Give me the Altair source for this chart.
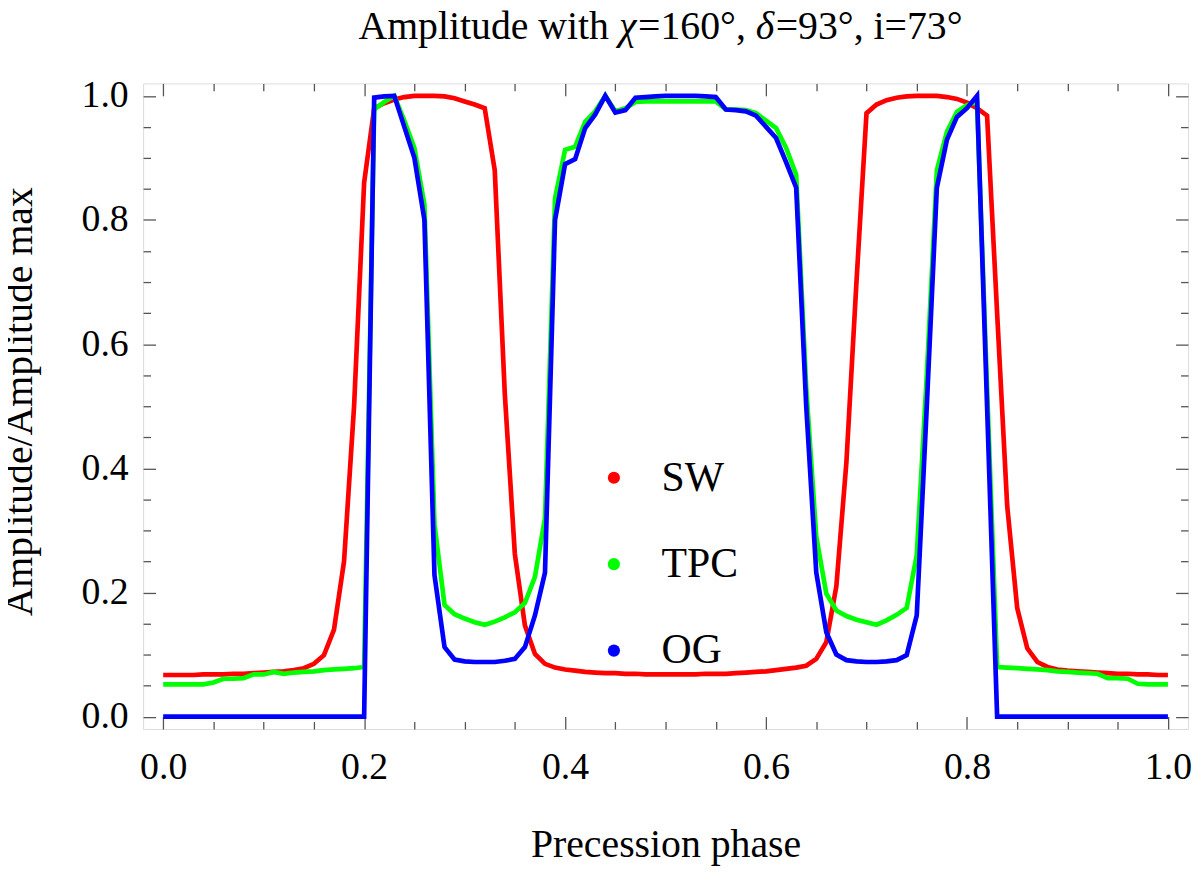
import altair as alt
import pandas as pd

# ---------------- data ----------------
phase = [round(i / 100, 2) for i in range(101)]

sw = [0.067, 0.067, 0.067, 0.067, 0.068, 0.068, 0.068, 0.069, 0.069, 0.070,
      0.071, 0.072, 0.073, 0.075, 0.078, 0.085, 0.099, 0.140, 0.250, 0.500,
      0.860, 0.980, 0.988, 0.994, 0.998, 1.000, 1.000, 1.000, 0.999, 0.996,
      0.991, 0.986, 0.980, 0.880, 0.520, 0.262, 0.147, 0.101, 0.085, 0.079,
      0.076, 0.074, 0.072, 0.071, 0.070, 0.070, 0.069, 0.069, 0.068, 0.068,
      0.068, 0.068, 0.068, 0.068, 0.069, 0.069, 0.069, 0.070, 0.071, 0.072,
      0.073, 0.075, 0.077, 0.079, 0.082, 0.093, 0.120, 0.210, 0.410, 0.700,
      0.972, 0.986, 0.993, 0.997, 0.999, 1.000, 1.000, 1.000, 0.998, 0.995,
      0.989, 0.980, 0.968, 0.650, 0.340, 0.175, 0.110, 0.088, 0.080, 0.076,
      0.074, 0.073, 0.072, 0.071, 0.070, 0.069, 0.069, 0.068, 0.068, 0.067,
      0.067]

tpc = [0.052, 0.052, 0.052, 0.052, 0.052, 0.055, 0.061, 0.061, 0.062, 0.068,
       0.068, 0.072, 0.069, 0.071, 0.072, 0.073, 0.075, 0.076, 0.077, 0.078,
       0.080, 0.978, 0.990, 1.000, 0.960, 0.916, 0.825, 0.310, 0.180, 0.165,
       0.158, 0.152, 0.148, 0.153, 0.160, 0.168, 0.183, 0.225, 0.320, 0.835,
       0.913, 0.918, 0.958, 0.975, 1.000, 0.975, 0.980, 0.990, 0.991, 0.991,
       0.991, 0.991, 0.991, 0.991, 0.991, 0.991, 0.978, 0.978, 0.977, 0.972,
       0.960, 0.948, 0.916, 0.873, 0.530, 0.290, 0.198, 0.171, 0.162, 0.156,
       0.152, 0.148, 0.155, 0.164, 0.175, 0.260, 0.550, 0.880, 0.942, 0.974,
       0.985, 0.990, 0.530, 0.080, 0.079, 0.078, 0.077, 0.076, 0.075, 0.073,
       0.072, 0.071, 0.070, 0.069, 0.062, 0.062, 0.061, 0.053, 0.052, 0.052,
       0.052]

og = [0.000, 0.000, 0.000, 0.000, 0.000, 0.000, 0.000, 0.000, 0.000, 0.000,
      0.000, 0.000, 0.000, 0.000, 0.000, 0.000, 0.000, 0.000, 0.000, 0.000,
      0.000, 0.997, 0.999, 1.000, 0.950, 0.900, 0.800, 0.228, 0.112, 0.092,
      0.089, 0.088, 0.088, 0.088, 0.090, 0.093, 0.112, 0.163, 0.232, 0.800,
      0.890, 0.898, 0.948, 0.970, 1.000, 0.973, 0.977, 0.997, 0.998, 0.999,
      1.000, 1.000, 1.000, 1.000, 0.999, 0.998, 0.978, 0.977, 0.975, 0.968,
      0.950, 0.932, 0.893, 0.852, 0.500, 0.232, 0.136, 0.100, 0.091, 0.089,
      0.088, 0.088, 0.089, 0.091, 0.099, 0.163, 0.500, 0.852, 0.929, 0.966,
      0.980, 1.000, 0.500, 0.000, 0.000, 0.000, 0.000, 0.000, 0.000, 0.000,
      0.000, 0.000, 0.000, 0.000, 0.000, 0.000, 0.000, 0.000, 0.000, 0.000,
      0.000]

series_names = ["SW", "TPC", "OG"]
series_colors = ["#ff0000", "#00ff00", "#0000ff"]

major_ticks = [0.0, 0.2, 0.4, 0.6, 0.8, 1.0]
minor_ticks = [0.05, 0.1, 0.15, 0.25, 0.3, 0.35, 0.45, 0.5, 0.55,
               0.65, 0.7, 0.75, 0.85, 0.9, 0.95]

# title pieces (Greek symbols are italic in the reference)
title_pieces = ["Amplitude with ", "χ", "=160°, ", "δ", "=93°, i=73°"]
title_italic = [False, True, False, True, False]
x_title = "Precession phase"
y_title = "Amplitude/Amplitude max"

# ---------------- table ----------------
rows = []
for name, vals in zip(series_names, [sw, tpc, og]):
    for p, v in zip(phase, vals):
        rows.append({"phase": p, "amp": v, "series": name})
df = pd.DataFrame(rows)

# ---------------- styling ----------------
FONT = "Liberation Serif"
W, H = 1052, 650
PAD_L, PAD_T = 136, 73
TICK_COLOR = "#555555"
xscale = alt.Scale(domain=[-0.02, 1.02], nice=False, zero=False)
yscale = alt.Scale(domain=[-0.02, 1.02], nice=False, zero=False)

base = alt.Chart(df)

lines = base.mark_line(strokeWidth=4.7, clip=True).encode(
    x=alt.X("phase:Q", scale=xscale, axis=alt.Axis(
        orient="bottom", values=major_ticks, format=".1f",
        ticks=False, tickSize=0, domain=False, grid=False,
        labelFont=FONT, labelFontSize=38, labelColor="black",
        labelPadding=50, labelBaseline="alphabetic", labelFlush=False,
        labelOverlap=False,
        title=x_title, titleFont=FONT, titleFontSize=40,
        titleFontWeight="normal", titleColor="black",
        titleBaseline="alphabetic", titleY=128)),
    y=alt.Y("amp:Q", scale=yscale, axis=alt.Axis(
        orient="left", values=major_ticks, format=".1f",
        ticks=False, tickSize=0, domain=False, grid=False,
        labelFont=FONT, labelFontSize=38, labelColor="black",
        labelPadding=15, labelBaseline="middle", labelFlush=False,
        labelOverlap=False,
        title=y_title, titleFont=FONT, titleFontSize=40,
        titleFontWeight="normal", titleColor="black",
        titleBaseline="alphabetic", titleAngle=-90,
        titleX=-112, titleY=320)),
    # stroke scale takes its domain from the data (ordered), so that its
    # (disabled) legend is not merged with the fill legend below
    stroke=alt.Stroke("series:N",
                      scale=alt.Scale(range=series_colors),
                      sort=series_names, legend=None),
)

# legend: filled dots, from an (empty) circle layer using the fill channel
legend_layer = base.transform_filter("false").mark_circle(opacity=1).encode(
    x=alt.X("phase:Q", scale=xscale, title="", axis=None),
    y=alt.Y("amp:Q", scale=yscale, title="", axis=None),
    fill=alt.Fill("series:N",
                  scale=alt.Scale(domain=series_names, range=series_colors),
                  legend=alt.Legend(
                      title=None, orient="none", legendX=453, legendY=376,
                      symbolType="circle", symbolSize=150,
                      symbolStrokeWidth=0, symbolOpacity=1,
                      labelFont=FONT, labelFontSize=42, labelColor="black",
                      labelOffset=27, rowPadding=45, padding=0)),
)


def tick_layer(x_orient, x_off, y_orient, y_off, values, size):
    return base.transform_filter("false").mark_point(opacity=0).encode(
        x=alt.X("phase:Q", scale=xscale, title="", axis=alt.Axis(
            orient=x_orient, offset=x_off, values=values,
            ticks=True, tickSize=size, tickColor=TICK_COLOR, tickWidth=1.3,
            labels=False, domain=False, grid=False)),
        y=alt.Y("amp:Q", scale=yscale, title="", axis=alt.Axis(
            orient=y_orient, offset=y_off, values=values,
            ticks=True, tickSize=size, tickColor=TICK_COLOR, tickWidth=1.3,
            labels=False, domain=False, grid=False)),
    )


# ticks pointing inwards: bottom & left frame edges
t1 = tick_layer("top", -H, "right", -W, major_ticks, 12.5)
t2 = tick_layer("top", -H, "right", -W, minor_ticks, 7.5)
# ticks pointing inwards: top & right frame edges
t3 = tick_layer("bottom", -H, "left", -W, major_ticks, 12.5)
t4 = tick_layer("bottom", -H, "left", -W, minor_ticks, 7.5)

# title as text pieces (to get the italic Greek letters)
TITLE_SIZE = 40
piece_em = [6.556, 0.48, 2.964, 0.50, 4.706]   # Times-metric widths in em
total_w = sum(piece_em) * TITLE_SIZE
title_center = 665 - 8 - PAD_L                   # centre of the title, plot coords
x_cursor = title_center - total_w / 2
title_layers = []
for piece, ital, em in zip(title_pieces, title_italic, piece_em):
    title_layers.append(
        alt.Chart(pd.DataFrame({"t": [piece]})).mark_text(
            align="left", baseline="alphabetic", font=FONT,
            fontSize=TITLE_SIZE, fontStyle="italic" if ital else "normal",
            color="black"
        ).encode(x=alt.value(x_cursor), y=alt.value(-45), text="t:N")
    )
    x_cursor += em * TITLE_SIZE

chart = alt.layer(lines, legend_layer, t1, t2, t3, t4, *title_layers).resolve_axis(
    x="independent", y="independent"
).properties(
    width=W, height=H,
    autosize=alt.AutoSizeParams(type="none"),
    padding={"left": PAD_L, "top": PAD_T, "right": 4, "bottom": 140},
).configure_view(
    stroke="#666666", strokeWidth=1.5
).configure(
    background="white"
)

chart.save("out.html", embed_options={"renderer": "svg", "actions": False})
